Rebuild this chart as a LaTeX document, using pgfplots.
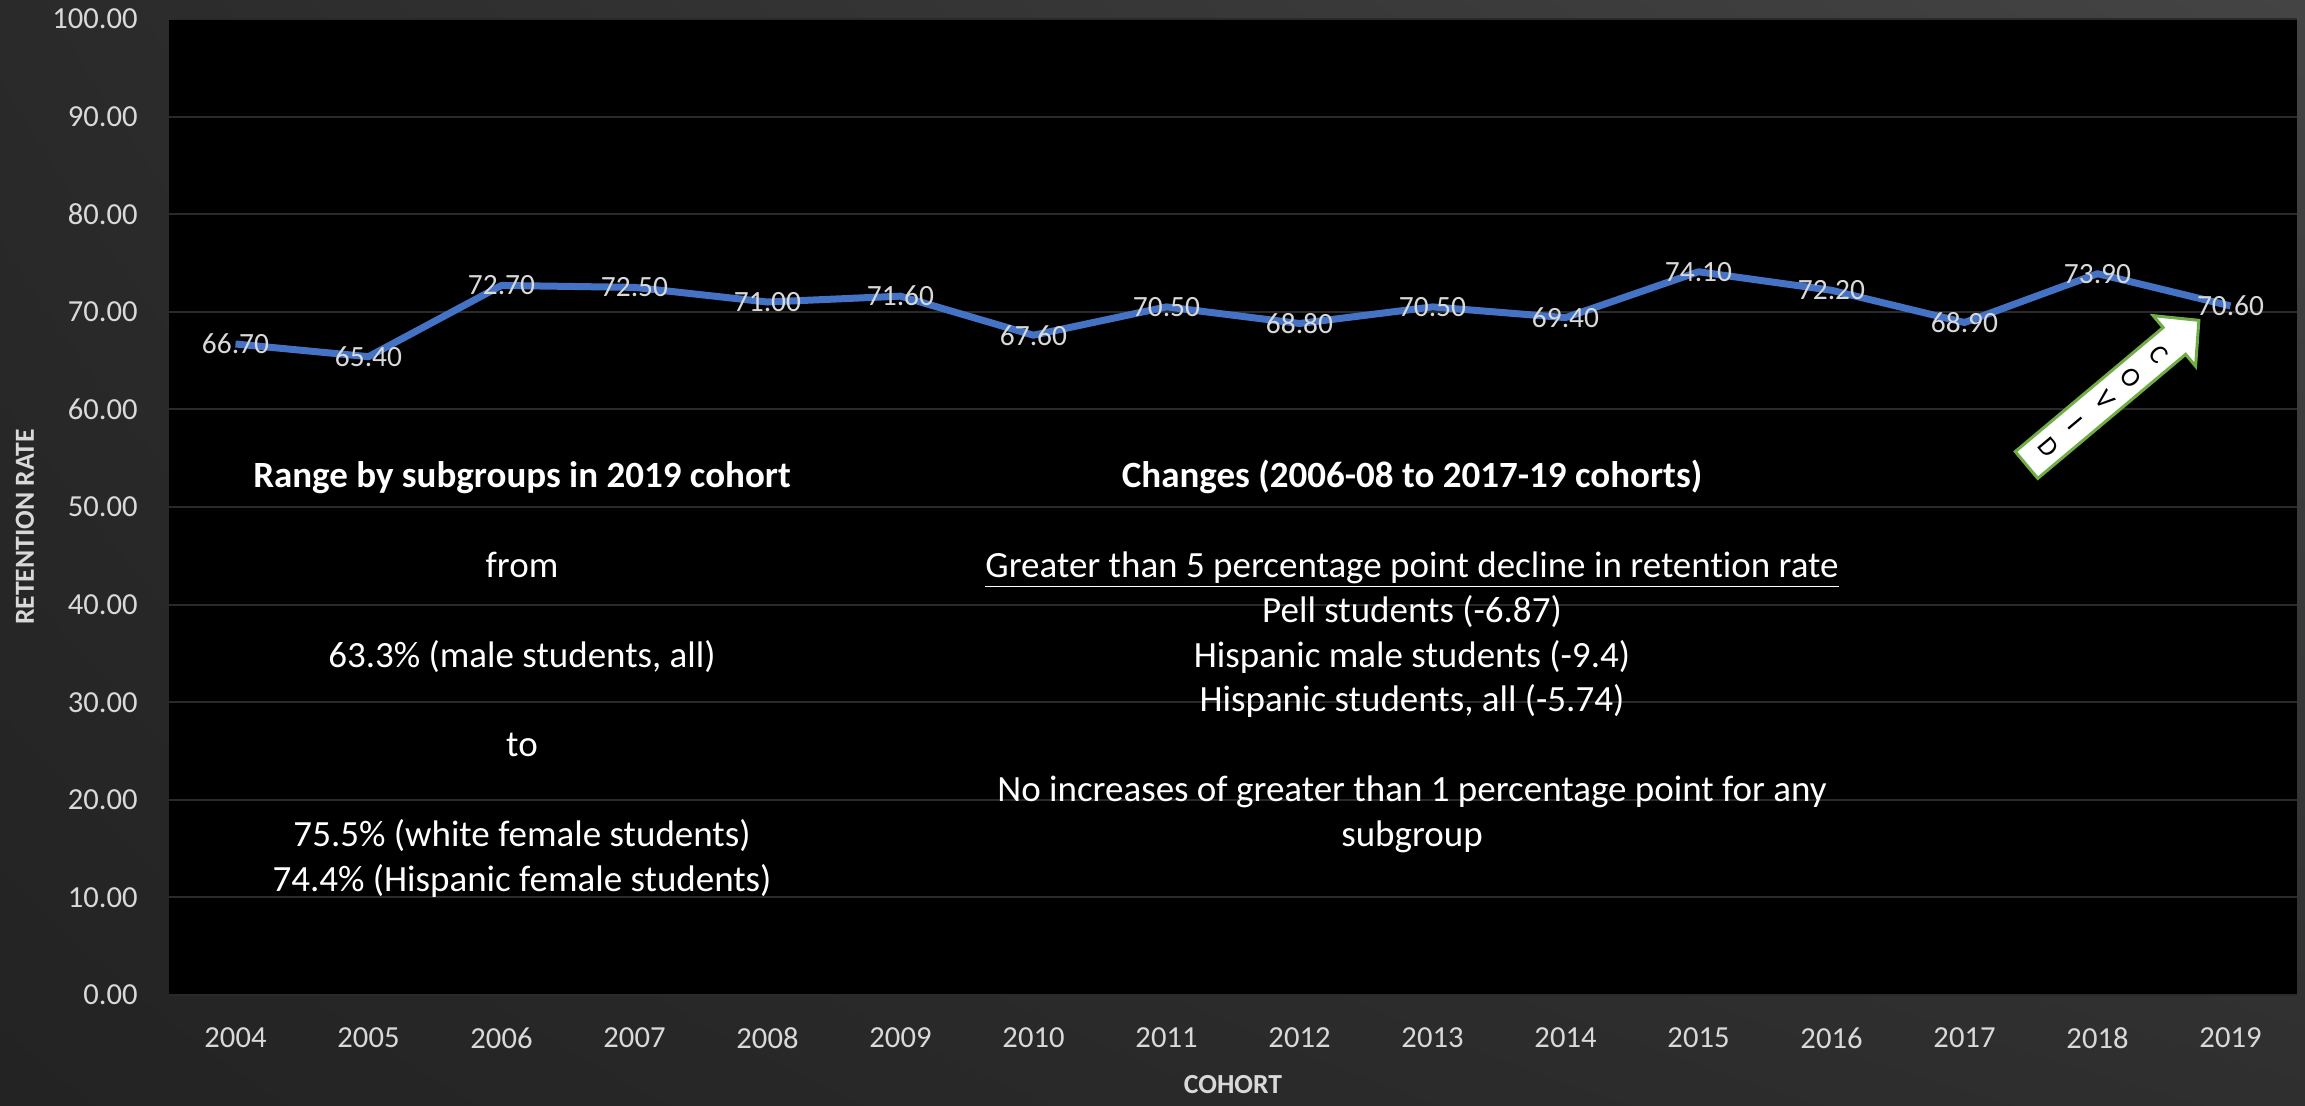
\documentclass[border=0pt]{standalone}
\usepackage{fontspec}
\setmainfont[RawFeature={-liga;-clig;-dlig;-calt}]{Carlito}
\usepackage{pgfplots}
\pgfplotsset{compat=1.18}
\usetikzlibrary{shadings}
\definecolor{lineblue}{HTML}{4472C4}
\definecolor{ticktext}{HTML}{D9D9D9}
\definecolor{gridc}{HTML}{2A2A2A}
\definecolor{covidgreen}{HTML}{70AD47}
\definecolor{bgLL}{HTML}{232323}
\definecolor{bgUL}{HTML}{2A2A2A}
\definecolor{bgLR}{HTML}{2F2F2F}
\definecolor{bgUR}{HTML}{444444}
\begin{document}
\begin{tikzpicture}
\useasboundingbox (0,0) rectangle (1152.5pt,553pt);
\shade[lower left=bgLL, upper left=bgUL, lower right=bgLR, upper right=bgUR] (0,0) rectangle (1152.5pt,553pt);
\begin{axis}[
  at={(84.5pt,55.5pt)}, anchor=south west, scale only axis,
  width=1064pt, height=488pt,
  xmin=-0.5, xmax=15.5, ymin=0, ymax=100,
  xtick={0,...,15},
  xticklabels={2004,2005,2006,2007,2008,2009,2010,2011,2012,2013,2014,2015,2016,2017,2018,2019},
  ytick={0,10,...,100},
  /pgf/number format/assume math mode=true,
  axis background/.style={fill=black},
  axis line style={draw=none},
  major tick style={draw=none},
  ymajorgrids,
  major grid style={gridc, line width=1pt},
  ticklabel style={font=\fontsize{15.3}{18}\selectfont, text=ticktext},
  yticklabel style={anchor=east, inner sep=0pt, xshift=-15.5pt,
    /pgf/number format/fixed, /pgf/number format/fixed zerofill, /pgf/number format/precision=2},
  xticklabel style={anchor=north, inner sep=0pt, yshift=-16pt},
]
\addplot[lineblue, line width=3.5pt, line join=round, mark=none,
  nodes near coords,
  every node near coord/.append style={anchor=center, text=ticktext,
    font=\fontsize{14.7}{17}\selectfont,
    /pgf/number format/fixed, /pgf/number format/fixed zerofill,
    /pgf/number format/precision=2, /pgf/number format/assume math mode=true}]
coordinates {
(0,66.7) (1,65.4) (2,72.7) (3,72.5) (4,71.0) (5,71.6) (6,67.6) (7,70.5)
(8,68.8) (9,70.5) (10,69.4) (11,74.1) (12,72.2) (13,68.9) (14,73.9) (15,70.6)
};
\end{axis}
% axis titles
\node[rotate=90, anchor=center, text=ticktext, font=\bfseries\fontsize{13.8}{16}\selectfont] at (12.5pt,289.5pt) {RETENTION RATE};
\node[anchor=center, text=ticktext, font=\bfseries\fontsize{13.8}{16}\selectfont] at (616.5pt,10.5pt) {COHORT};
% left annotation block
\begin{scope}[every node/.style={anchor=base, text=white, font=\fontsize{18.5}{22}\selectfont}]
\node at (261pt,309pt) {\bfseries Range by subgroups in 2019 cohort};
\node at (261pt,264.2pt) {from};
\node at (261pt,219.4pt) {63.3\% (male students, all)};
\node at (261pt,174.6pt) {to};
\node at (261pt,129.8pt) {75.5\% (white female students)};
\node at (261pt,107.4pt) {74.4\% (Hispanic female students)};
% right annotation block
\node at (706pt,309pt) {\bfseries Changes (2006-08 to 2017-19 cohorts)};
\node at (706pt,264.2pt) {\underline{Greater than 5 percentage point decline in retention rate}};
\node at (706pt,241.8pt) {Pell students (-6.87)};
\node at (706pt,219.4pt) {Hispanic male students (-9.4)};
\node at (706pt,197pt) {Hispanic students, all (-5.74)};
\node at (706pt,152.2pt) {No increases of greater than 1 percentage point for any};
\node at (706pt,129.8pt) {subgroup};
\end{scope}
% COVID arrow
\begin{scope}[shift={(1013.25pt,320.5pt)}, rotate=40]
\draw[fill=white, draw=covidgreen, line width=1.5pt, line join=miter]
  (0pt,-8.75pt) -- (96.5pt,-8.75pt) -- (96.5pt,-16.5pt) -- (112.5pt,0pt) --
  (96.5pt,16.5pt) -- (96.5pt,8.75pt) -- (0pt,8.75pt) -- cycle;
\foreach \d/\c in {14/D,32/I,51/V,68/O,86/C}{
  \node[rotate=-50, anchor=center, text=black, inner sep=0pt, font=\fontsize{13.5}{15}\selectfont] at (\d pt,0pt) {\c};
}
\end{scope}
\end{tikzpicture}
\end{document}
